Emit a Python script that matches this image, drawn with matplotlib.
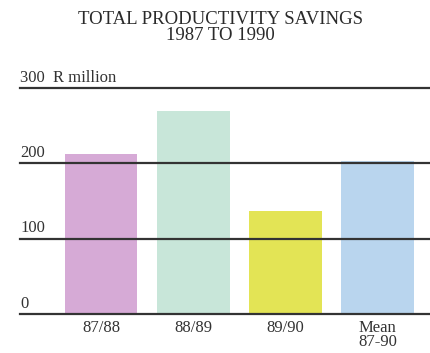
import matplotlib.pyplot as plt

years = ['87/88', '88/89', '89/90', 'Mean\n87-90']
savings = [213, 270, 137, 203]
colors = ['#d6aad6', '#c8e6d9', '#e3e455', '#b9d5ee']
gridlines = [0, 100, 200, 300]
grid_labels = ['0', '100', '200', '300  R million']

plt.rcParams['font.family'] = ['Liberation Serif', 'DejaVu Serif']

fig = plt.figure(figsize=(4.30, 3.53), dpi=100)
ax = fig.add_axes([0.0465, 0.1105, 0.9535, 0.6402])

x = range(len(years))
ax.bar(x, savings, width=0.79, color=colors, zorder=1)

for val, lab in zip(gridlines, grid_labels):
    ax.axhline(val, color='#333333', lw=1.6, zorder=2, clip_on=False)
    ax.text(0, val + 3, lab, transform=ax.get_yaxis_transform(),
            ha='left', va='bottom', fontsize=12, color='#333333')

ax.set_xlim(-0.88, 3.57)
ax.set_ylim(0, 300)
ax.set_xticks(list(x))
ax.set_xticklabels(years, fontsize=12, color='#333333', linespacing=0.9)
ax.tick_params(axis='x', length=0, pad=4)
ax.set_yticks([])
for s in ax.spines.values():
    s.set_visible(False)

fig.text(0.512, 0.922, 'TOTAL PRODUCTIVITY SAVINGS\n1987 TO 1990', ha='center',
         va='center', fontsize=13.5, color='#2a2a2a', linespacing=0.9)

fig.savefig('out.png', dpi=100)
